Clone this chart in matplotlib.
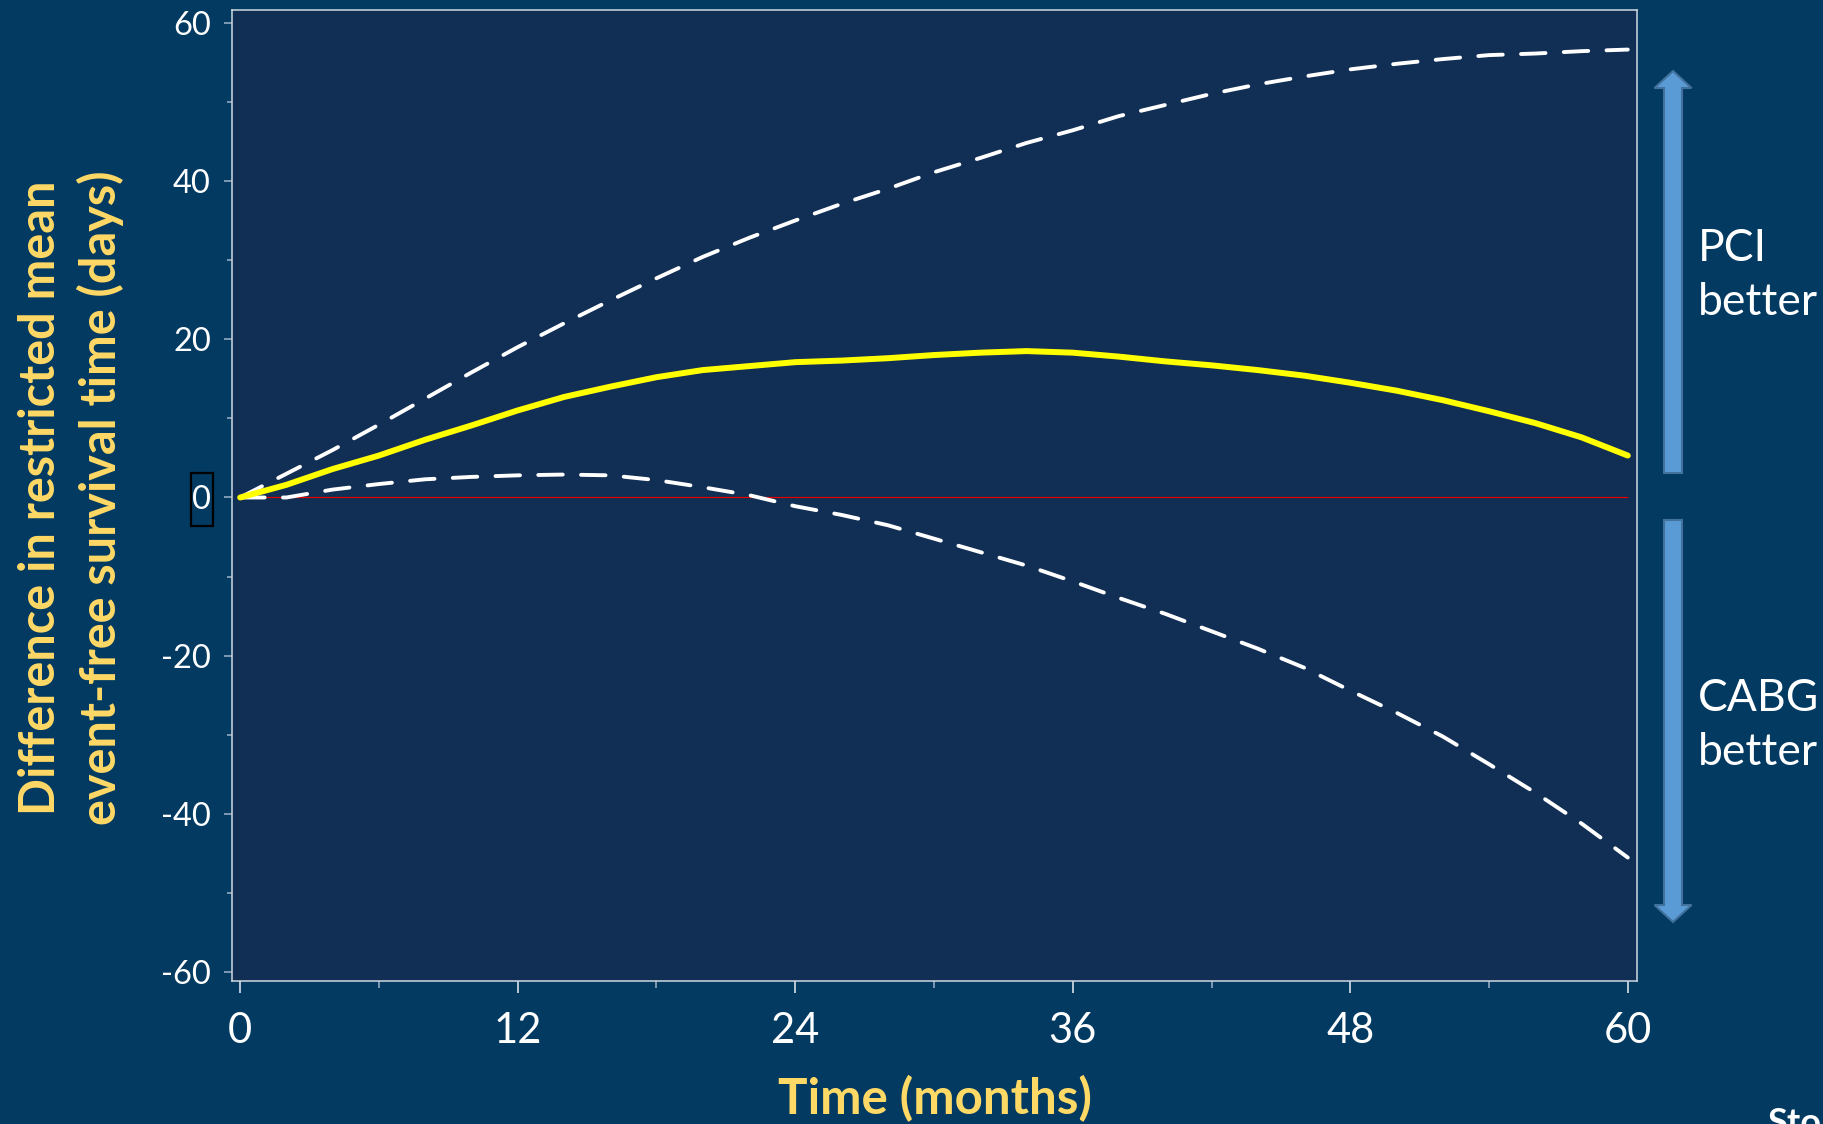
import numpy as np
import matplotlib
matplotlib.use("Agg")
import matplotlib.pyplot as plt
from matplotlib.patches import FancyArrow, Rectangle

# Werte (alle 2 Monate)
months = [0, 2, 4, 6, 8, 10, 12, 14, 16, 18, 20, 22, 24, 26, 28, 30,
          32, 34, 36, 38, 40, 42, 44, 46, 48, 50, 52, 54, 56, 58, 60]
diff_mean = [0, 1.6, 3.6, 5.3, 7.3, 9.1, 11.0, 12.7, 14.0, 15.2, 16.1, 16.6,
             17.1, 17.3, 17.6, 18.0, 18.3, 18.5, 18.3, 17.8, 17.2, 16.7, 16.1,
             15.4, 14.5, 13.5, 12.3, 10.9, 9.4, 7.6, 5.3]
upper_ci = [0, 3.0, 6.0, 9.2, 12.5, 15.8, 19.0, 22.0, 24.9, 27.7, 30.4, 32.8,
            35.0, 37.1, 39.0, 41.1, 42.9, 44.8, 46.4, 48.2, 49.6, 51.0, 52.2,
            53.2, 54.1, 54.8, 55.4, 55.9, 56.1, 56.4, 56.6]
lower_ci = [0, 0.0, 1.0, 1.7, 2.3, 2.6, 2.8, 2.9, 2.8, 2.2, 1.3, 0.3, -1.1,
            -2.2, -3.5, -5.2, -6.9, -8.6, -10.6, -12.7, -14.7, -16.9, -19.1,
            -21.5, -24.4, -27.2, -30.2, -33.7, -37.3, -41.2, -45.5]

x_ticks = [0, 12, 24, 36, 48, 60]
y_ticks = [-60, -40, -20, 0, 20, 40, 60]

bg_outer = '#023a62'
bg_inner = '#112e54'
gold = '#ffd966'

plt.rcParams['font.family'] = ['Lato', 'DejaVu Sans']
plt.rcParams['axes.unicode_minus'] = False

fig = plt.figure(figsize=(18.23, 11.24), dpi=100, facecolor=bg_outer)
ax = fig.add_axes([0.1273, 0.1272, 0.7707, 0.8639], facecolor=bg_inner)

# Nulllinie, dann die Kurven
ax.hlines(0, months[0], months[-1], color='#e00000', lw=0.9, zorder=1)
ax.plot(months, upper_ci, color='white', lw=2.8, linestyle=(0, (6.3, 4.7)),
        dash_capstyle='round', zorder=2)
ax.plot(months, lower_ci, color='white', lw=2.8, linestyle=(0, (6.3, 4.7)),
        dash_capstyle='round', zorder=2)
ax.plot(months, diff_mean, color='#ffff00', lw=4.3, solid_capstyle='round', zorder=3)

ax.set_xlim(-0.35, 60.4)
ax.set_ylim(-61.1, 61.6)
ax.set_xticks(x_ticks)
ax.set_xticks([6, 18, 30, 42, 54], minor=True)
ax.set_yticks(y_ticks)
ax.set_yticks([-50, -30, -10, 10, 30, 50], minor=True)

for s in ax.spines.values():
    s.set_color('#d0d8e0')
    s.set_linewidth(1.1)

ax.tick_params(axis='x', which='major', length=8.6, width=1.1, color='#e8eef4',
               labelsize=30, labelcolor='white', pad=14)
ax.tick_params(axis='x', which='minor', length=5, width=1.1, color='#9fb3c8')
ax.tick_params(axis='y', which='major', length=5.8, width=1.1, color='#9fb3c8',
               labelsize=23.5, labelcolor='white', pad=9.4)
ax.tick_params(axis='y', which='minor', length=3.4, width=1.1, color='#9fb3c8')

# schwarzer Kasten um die "0"
ax.add_patch(Rectangle((-0.0292, -3.6), 0.0157, 6.7,
                       transform=ax.get_yaxis_transform(), fill=False,
                       edgecolor='black', lw=1.6, clip_on=False))

fig.text(0.039, 0.557, 'Difference in restricted mean\nevent-free survival time (days)',
         rotation=90, ha='center', va='center', multialignment='center',
         fontsize=35, fontweight='bold', color=gold, linespacing=1.35)
fig.text(0.513, 0.0089, 'Time (months)', ha='center', va='baseline',
         fontsize=35.5, fontweight='bold', color=gold)

# Pfeile rechts
arrow_kw = dict(width=0.18, head_width=0.37, head_length=0.17,
                length_includes_head=True, facecolor='#5b9bd5',
                edgecolor='#41719c', lw=1.5, transform=fig.dpi_scale_trans)
fig.add_artist(FancyArrow(16.73, 6.51, 0, 4.02, **arrow_kw))
fig.add_artist(FancyArrow(16.73, 6.04, 0, -4.02, **arrow_kw))

fig.text(0.9314, 1 - 315 / 1124, 'PCI\nbetter', ha='left', va='baseline',
         fontsize=32, color='white', linespacing=1.4)
fig.text(0.9314, 1 - 765 / 1124, 'CABG\nbetter', ha='left', va='baseline',
         fontsize=32, color='white', linespacing=1.4)

fig.text(0.9693, 0.0151, 'Stone', ha='left', va='top', fontsize=26,
         fontweight='bold', color='white')

fig.savefig('out.png', dpi=100, facecolor=bg_outer)
